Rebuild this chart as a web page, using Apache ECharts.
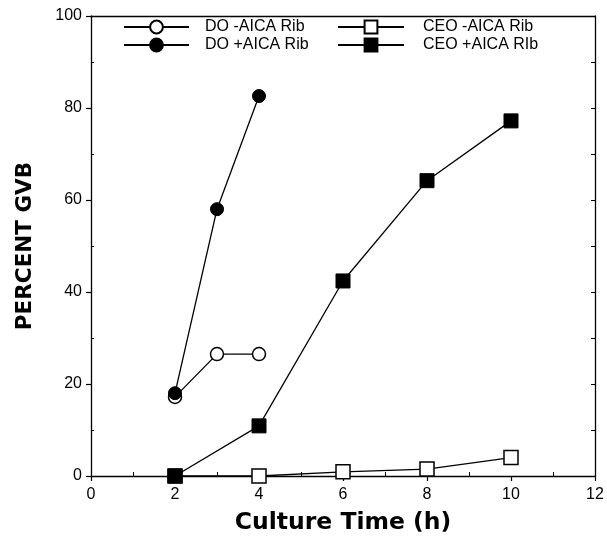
<!DOCTYPE html>
<html>
<head>
<meta charset="utf-8">
<script src="https://cdn.jsdelivr.net/npm/echarts@6/dist/echarts.min.js"></script>
<style>
  html, body { margin: 0; padding: 0; background: #fff; }
  #chart { width: 607px; height: 538px; }
</style>
</head>
<body>
<div id="chart"></div>
<script>
// Culture time (h) for each group
const doHours = [2, 3, 4];
const ceoHours = [2, 4, 6, 8, 10];

// Percent GVB per group
const doMinusAica = [17.2, 26.5, 26.5];
const doPlusAica = [18, 58, 82.6];
const ceoMinusAica = [0, 0, 0.9, 1.5, 4.0];
const ceoPlusAica = [0, 10.9, 42.4, 64.2, 77.2];

// Series names as shown in the key
const seriesNames = ['DO -AICA Rib', 'DO +AICA Rib', 'CEO -AICA Rib', 'CEO +AICA RIb'];

const xTicks = { min: 0, max: 12, interval: 2 };
const yTicks = { min: 0, max: 100, interval: 20 };

const pairs = (xs, ys) => xs.map((x, i) => [x, ys[i]]);

const ink = '#000';
const openStyle = { color: '#fff', borderColor: ink, borderWidth: 1.5 };
const filledStyle = { color: ink, borderColor: ink, borderWidth: 1 };

function makeSeries(name, data, symbol, size, style, z) {
  return {
    name: name,
    type: 'line',
    data: data,
    symbol: symbol,
    symbolSize: size,
    showAllSymbol: true,
    clip: false,
    z: z,
    lineStyle: { color: ink, width: 1.3 },
    itemStyle: style,
    emphasis: { disabled: true }
  };
}

const tickFont = { fontFamily: 'Liberation Sans, Arial, sans-serif', fontSize: 16, color: ink };
const legendText = { fontFamily: 'Liberation Sans, Arial, sans-serif', fontSize: 16, color: ink };

const chart = echarts.init(document.getElementById('chart'), null, { renderer: 'canvas' });
chart.setOption({
  animation: false,
  backgroundColor: '#fff',
  // fixed plot box; labels and names sit outside it
  grid: { left: 91, right: 12, top: 16, bottom: 62, containLabel: false, outerBoundsMode: 'none' },
  legend: [
    {
      data: [seriesNames[0], seriesNames[1]],
      orient: 'vertical',
      left: 123, top: 19,
      itemWidth: 65, itemHeight: 16, itemGap: 2,
      padding: 0,
      selectedMode: false,
      textStyle: Object.assign({ padding: [0, 0, 0, 11] }, legendText)
    },
    {
      data: [seriesNames[2], seriesNames[3]],
      orient: 'vertical',
      left: 337, top: 19,
      itemWidth: 66, itemHeight: 16, itemGap: 2,
      padding: 0,
      selectedMode: false,
      textStyle: Object.assign({ padding: [0, 0, 0, 14] }, legendText)
    }
  ],
  xAxis: [
    {
      type: 'value',
      position: 'bottom',
      min: xTicks.min, max: xTicks.max, interval: xTicks.interval,
      name: 'Culture Time (h)',
      nameLocation: 'middle',
      nameGap: 35,
      nameTextStyle: { fontFamily: 'DejaVu Sans, sans-serif', fontWeight: 'bold', fontSize: 23.5, color: ink },
      axisLine: { show: true, onZero: false, lineStyle: { color: ink, width: 1.3 } },
      axisTick: { show: true, inside: false, length: 5, lineStyle: { color: ink, width: 1.2 } },
      minorTick: { show: true, splitNumber: 2, length: -4, lineStyle: { color: ink, width: 1 } },
      axisLabel: Object.assign({ margin: 11 }, tickFont),
      splitLine: { show: false }
    },
    {
      type: 'value',
      position: 'top',
      min: xTicks.min, max: xTicks.max, interval: xTicks.interval,
      axisLine: { show: true, onZero: false, lineStyle: { color: ink, width: 1.3 } },
      axisTick: { show: false },
      axisLabel: { show: false },
      splitLine: { show: false }
    }
  ],
  yAxis: [
    {
      type: 'value',
      position: 'left',
      min: yTicks.min, max: yTicks.max, interval: yTicks.interval,
      name: 'PERCENT GVB',
      nameLocation: 'middle',
      nameGap: 55,
      nameTextStyle: { fontFamily: 'DejaVu Sans, sans-serif', fontWeight: 'bold', fontSize: 21.5, color: ink },
      axisLine: { show: true, onZero: false, lineStyle: { color: ink, width: 1.3 } },
      axisTick: { show: true, inside: false, length: 5, lineStyle: { color: ink, width: 1.2 } },
      minorTick: { show: true, splitNumber: 2, length: -3, lineStyle: { color: ink, width: 1 } },
      axisLabel: Object.assign({ margin: 9 }, tickFont),
      splitLine: { show: false }
    },
    {
      type: 'value',
      position: 'right',
      min: yTicks.min, max: yTicks.max, interval: yTicks.interval / 2,
      axisLine: { show: true, onZero: false, lineStyle: { color: ink, width: 1.3 } },
      axisTick: { show: true, inside: true, length: 4, lineStyle: { color: ink, width: 1 } },
      axisLabel: { show: false },
      splitLine: { show: false }
    }
  ],
  series: [
    makeSeries(seriesNames[0], pairs(doHours, doMinusAica), 'circle', 13, openStyle, 2),
    makeSeries(seriesNames[2], pairs(ceoHours, ceoMinusAica), 'rect', 14, openStyle, 2),
    makeSeries(seriesNames[1], pairs(doHours, doPlusAica), 'circle', 13, filledStyle, 3),
    makeSeries(seriesNames[3], pairs(ceoHours, ceoPlusAica), 'rect', 14, filledStyle, 3)
  ]
});
</script>
</body>
</html>
